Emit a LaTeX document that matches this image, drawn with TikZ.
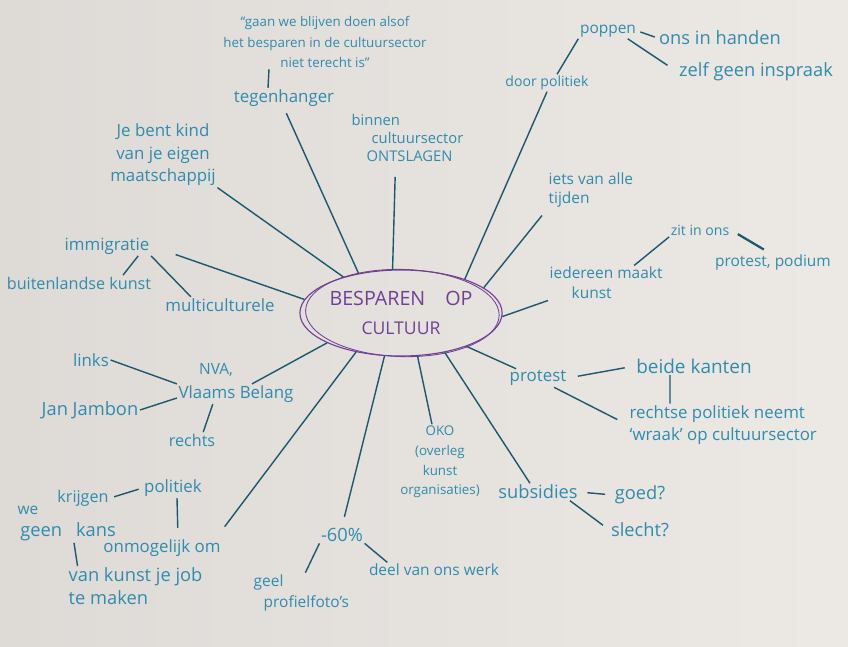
\documentclass[tikz,border=0pt]{standalone}
\usepackage{fontspec}
\setmainfont{Open Sans}
\usetikzlibrary{shapes.geometric}
\definecolor{paper}{RGB}{236,232,228}
\definecolor{ink}{RGB}{48,140,172}
\definecolor{pen}{RGB}{30,88,110}
\definecolor{hubpurple}{RGB}{112,64,150}
\begin{document}
\begin{tikzpicture}[
        x=0.025cm, y=-0.025cm,
        note/.style={text=ink, inner sep=1pt, font=\fontsize{12}{16}\selectfont},
        link/.style={draw=pen, line width=1pt},
        hub/.style={ellipse, draw=hubpurple, line width=0.8pt, text=hubpurple,
            minimum width=4.8cm, minimum height=2.15cm, inner sep=0pt,
            align=center, font=\fontsize{14}{20}\selectfont},
    ]
    \shade[left color=paper!94!black, right color=paper!98!white] (0,0) rectangle (848,646);
    \useasboundingbox (0,0) rectangle (848,646);

    \node[hub] (kern) at (401,313) {BESPAREN\hspace{0.5cm}OP\\{\fontsize{12.5}{14}\selectfont CULTUUR}};
    \draw[hubpurple, line width=0.6pt, rotate around={-1.5:(kern.center)}] ([xshift=1pt]kern.center) ellipse [x radius=2.42cm, y radius=1.09cm];

    \node[note, align=center, font=\fontsize{9.5}{14.5}\selectfont] (quote) at (325,42) {“gaan we blijven doen alsof\\het besparen in de cultuursector\\niet terecht is”};
    \node[note] (tegen) at (284,98) {tegenhanger};
    \node[note, align=center] (kind) at (163,155) {Je bent kind\\van je eigen\\maatschappij};
    \node[note, anchor=west, align=left, font=\fontsize{10.5}{12.5}\selectfont] (binnen) at (350,138) {binnen\\\hspace*{0.5cm}cultuursector\\\hspace*{0.375cm}ONTSLAGEN};
    \node[note, font=\fontsize{10}{12}\selectfont] (door) at (547,83) {door politiek};
    \node[note, font=\fontsize{11}{13}\selectfont] (poppen) at (608,31) {poppen};
    \node[note, font=\fontsize{13}{15}\selectfont] (handen) at (720,38) {ons in handen};
    \node[note, font=\fontsize{13}{15}\selectfont] (inspraak) at (756,72) {zelf geen inspraak};
    \node[note, anchor=west, align=left, font=\fontsize{11}{14}\selectfont] (tijden) at (547,190) {iets van alle\\tijden};
    \node[note, font=\fontsize{10}{12}\selectfont] (zit) at (700,230) {zit in ons};
    \node[note, font=\fontsize{11}{13}\selectfont] (podium) at (773,262) {protest, podium};
    \node[note, anchor=west, align=left, font=\fontsize{11}{14}\selectfont] (iedereen) at (548,283) {iedereen maakt\\\hspace*{0.55cm}kunst};
    \node[note] (immigratie) at (107,246) {immigratie};
    \node[note, font=\fontsize{11.5}{14}\selectfont] (buitenland) at (79,283) {buitenlandse kunst};
    \node[note] (multi) at (220,305) {multiculturele};
    \node[note, font=\fontsize{11}{13}\selectfont] (nva) at (216,370) {NVA,};
    \node[note] (vb) at (236,394) {Vlaams Belang};
    \node[note] (links) at (91,360) {links};
    \node[note, font=\fontsize{13}{15}\selectfont] (jambon) at (90,410) {Jan Jambon};
    \node[note, font=\fontsize{11.5}{14}\selectfont] (rechts) at (192,440) {rechts};
    \node[note, align=center, font=\fontsize{9.5}{14}\selectfont] (oko) at (440,462) {OKO\\(overleg\\kunst\\organisaties)};
    \node[note, font=\fontsize{13}{15}\selectfont] (subsidies) at (538,492) {subsidies};
    \node[note, font=\fontsize{13}{15}\selectfont] (goed) at (640,495) {goed?};
    \node[note, font=\fontsize{13}{15}\selectfont] (slecht) at (640,530) {slecht?};
    \node[note] (protest) at (538,378) {protest};
    \node[note, font=\fontsize{13.5}{16}\selectfont] (kanten) at (694,366) {beide kanten};
    \node[note, anchor=west, align=left] (wraak) at (628,425) {rechtse politiek neemt\\‘wraak’ op cultuursector};
    \node[note, font=\fontsize{13}{15}\selectfont] (zestig) at (342,535) {-60\%};
    \node[note, anchor=west, align=left, font=\fontsize{11}{15.5}\selectfont] (geel) at (252,593) {geel\\\hspace*{0.25cm}profielfoto’s};
    \node[note, font=\fontsize{11}{13}\selectfont] (werk) at (434,570) {deel van ons werk};
    \node[note, font=\fontsize{11}{13}\selectfont] (we) at (28,510) {we};
    \node[note, font=\fontsize{11.5}{14}\selectfont] (krijgen) at (83,498) {krijgen};
    \node[note] (politiek) at (173,488) {politiek};
    \node[note, font=\fontsize{13}{15}\selectfont] (kans) at (68,532) {geen\hspace{0.35cm}kans};
    \node[note] (onmogelijk) at (162,548) {onmogelijk om};
    \node[note, anchor=west, align=left, font=\fontsize{13}{16}\selectfont] (job) at (67,586) {van kunst je job\\te maken};

    \draw[link] ([xshift=-1.4cm]quote.south) -- ([xshift=-0.4cm]tegen.north);
    \draw[link, shorten <=4pt] (tegen.south) -- (kern.137);
    \draw[link] (kind.south east) -- (kern.148);
    \draw[link, shorten <=0.35cm] ([xshift=-0.3cm]binnen.south) -- (kern.101);
    \draw[link] (door.south) -- (kern.28);
    \draw[link] ([xshift=0.25cm]door.north) -- (poppen.south west);
    \draw[link, shorten <=2pt, shorten >=2pt] (poppen.east) -- (handen.west);
    \draw[link, shorten >=0.3cm] ([xshift=-0.25cm]poppen.south east) -- (inspraak.west);
    \draw[link, shorten <=0.2cm] (tijden.south west) -- (kern.17);
    \draw[link] ([xshift=0.7cm]iedereen.north) -- (zit.south west);
    \draw[link, line width=1.6pt, shorten <=0.2cm, shorten >=0.15cm] (zit.east) -- ([xshift=-0.1cm]podium.north);
    \draw[link] (iedereen.south west) -- (kern.-2);
    \draw[link] ([xshift=0.78cm]immigratie.south) -- ([xshift=1.1cm]buitenland.north);
    \draw[link] (immigratie.south east) -- ([xshift=0.68cm]multi.north west);
    \draw[link, shorten <=0.65cm] (immigratie.east) -- (kern.172);
    \draw[link] ([xshift=0.4cm]vb.north) -- (kern.-158);
    \draw[link] (links.east) -- (vb.north west);
    \draw[link] (jambon.east) -- ([yshift=-0.1cm]vb.west);
    \draw[link] ([xshift=-0.58cm]vb.south) -- ([xshift=0.28cm]rechts.north);
    \draw[link, shorten >=0.35cm] (kern.-139) -- ([xshift=-0.15cm]onmogelijk.north east);
    \draw[link, shorten <=0.1cm, shorten >=0.1cm] (krijgen.east) -- (politiek.west);
    \draw[link, shorten >=0.25cm] ([xshift=0.1cm]politiek.south) -- ([xshift=0.4cm]onmogelijk.north);
    \draw[link] ([xshift=0.15cm]kans.south) -- ([xshift=-1.45cm]job.north);
    \draw[link, shorten >=0.25cm] (kern.-111) -- (zestig.north);
    \draw[link] (zestig.south west) -- ([xshift=0.1cm]geel.north);
    \draw[link] (zestig.south east) -- ([xshift=0.5cm]werk.north west);
    \draw[link] (kern.-69) -- ([xshift=-0.2cm]oko.north);
    \draw[link] (kern.-42) -- ([xshift=-0.2cm]subsidies.north);
    \draw[link, shorten <=0.2cm, shorten >=0.2cm] (subsidies.east) -- (goed.west);
    \draw[link, shorten >=0.2cm] ([xshift=0.8cm]subsidies.south) -- (slecht.west);
    \draw[link] (kern.-27) -- ([xshift=0.2cm]protest.north west);
    \draw[link, shorten <=0.25cm, shorten >=0.25cm] (protest.east) -- (kanten.west);
    \draw[link] ([xshift=-0.6cm]kanten.south) -- ([xshift=1.05cm]wraak.north west);
    \draw[link, shorten >=0.3cm] ([xshift=0.4cm]protest.south) -- (wraak.west);
\end{tikzpicture}
\end{document}
